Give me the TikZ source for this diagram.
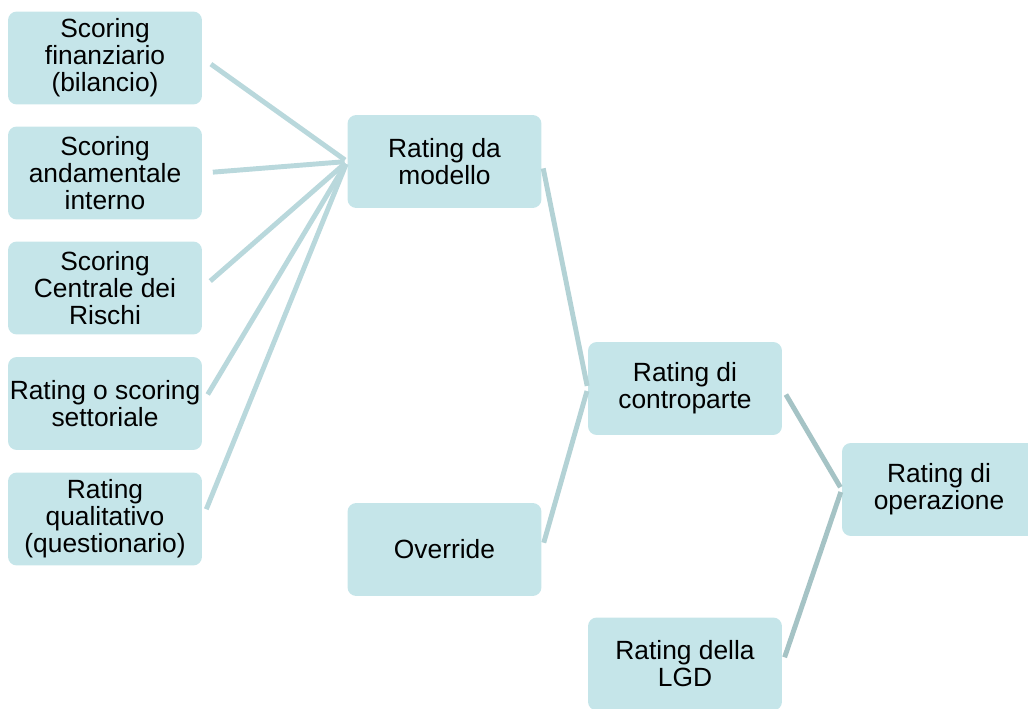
\documentclass[tikz,border=0pt]{standalone}
\usepackage{fontspec}
\setmainfont{Liberation Sans}
\usepackage{tikz}
\usetikzlibrary{positioning}
\definecolor{boxfill}{HTML}{C5E5E9}
\definecolor{linkA}{HTML}{B9D8DC}
\definecolor{linkB}{HTML}{B3D2D5}
\definecolor{linkC}{HTML}{A5C3C5}
\tikzset{
    mybox/.style={rectangle,rounded corners=5pt,fill=boxfill,draw=none,
        minimum width=3.88cm,minimum height=1.86cm,
        align=center,inner sep=0pt,font=\fontsize{15}{15.3}\selectfont},
    myedge/.style={line width=2.8pt,shorten >=1.5pt},
    every node/.style={text=black}
}
\begin{document}
\begin{tikzpicture}[x=0.02cm,y=-0.02cm]
          % area of the page: 1028 x 709 units
          \useasboundingbox (0,0) rectangle (1028,709);
          \node[mybox] (fin)  at (105,58)    {Scoring\\finanziario\\(bilancio)};
          \node[mybox] (and)  at (105,173)   {Scoring\\andamentale\\interno};
          \node[mybox] (cr)   at (105,288)   {Scoring\\Centrale dei\\Rischi};
          \node[mybox] (sett) at (105,403.5) {Rating o scoring\\settoriale};
          \node[mybox] (qual) at (105,519)   {Rating\\qualitativo\\(questionario)};
          \node[mybox] (mod)  at (444.5,161.5) {Rating da\\modello};
          \node[mybox] (ovr)  at (444.5,549.5) {Override};
          \node[mybox] (ctp)  at (685,388.5)   {Rating di\\controparte};
          \node[mybox] (lgd)  at (685,664)     {Rating della\\LGD};
          \node[mybox] (ope)  at (939,489.5)   {Rating di\\operazione};
          \foreach \N in {fin,and,cr,sett,qual}{\draw[myedge,linkA,shorten <=6pt] (\N.east) -- (mod.west);}
          \foreach \N in {mod,ovr}{\draw[myedge,linkB,shorten <=4pt] (\N.east) -- (ctp.west);}
          \foreach \N in {ctp,lgd}{\draw[myedge,linkC,shorten <=4pt] (\N.east) -- (ope.west);}
        \end{tikzpicture}
\end{document}
